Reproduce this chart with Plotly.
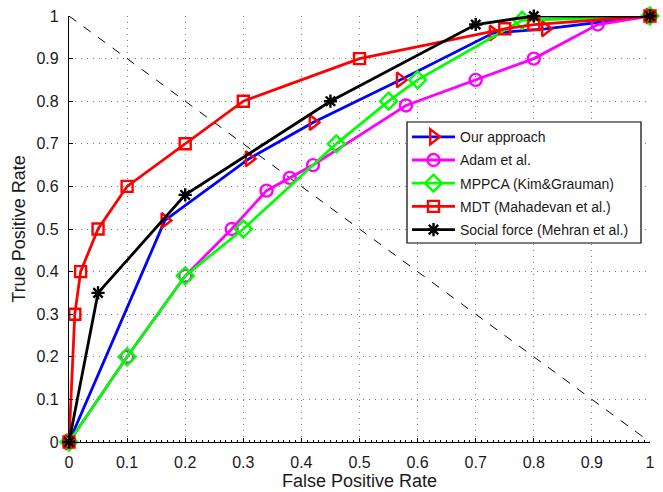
import plotly.graph_objects as go

# ---- data ----
ours_x = [0, 0.165, 0.31, 0.42, 0.57, 0.73, 0.82, 1.0]
ours_y = [0, 0.52, 0.665, 0.75, 0.85, 0.96, 0.97, 1.0]

adam_x = [0, 0.1, 0.2, 0.28, 0.34, 0.38, 0.42, 0.58, 0.70, 0.80, 0.91, 1.0]
adam_y = [0, 0.2, 0.39, 0.50, 0.59, 0.62, 0.65, 0.79, 0.85, 0.90, 0.98, 1.0]

mppca_x = [0, 0.1, 0.2, 0.3, 0.46, 0.55, 0.60, 0.78, 1.0]
mppca_y = [0, 0.2, 0.39, 0.5, 0.70, 0.80, 0.85, 0.99, 1.0]

mdt_x = [0, 0.01, 0.02, 0.05, 0.1, 0.2, 0.3, 0.5, 0.75, 0.80, 1.0]
mdt_y = [0, 0.30, 0.40, 0.50, 0.6, 0.7, 0.8, 0.9, 0.97, 0.98, 1.0]

sf_x = [0, 0.05, 0.2, 0.45, 0.70, 0.80, 1.0]
sf_y = [0, 0.35, 0.58, 0.80, 0.98, 1.0, 1.0]

diag_x = [0, 1]
diag_y = [1, 0]

tick_vals = [0, 0.1, 0.2, 0.3, 0.4, 0.5, 0.6, 0.7, 0.8, 0.9, 1.0]
tick_text = ["0", "0.1", "0.2", "0.3", "0.4", "0.5", "0.6", "0.7", "0.8", "0.9", "1"]

FONT = "Liberation Sans, Arial, sans-serif"

fig = go.Figure()

fig.add_trace(go.Scatter(x=diag_x, y=diag_y, mode="lines", showlegend=False,
                         line=dict(color="black", width=1, dash="dash"),
                         hoverinfo="skip", cliponaxis=False))

def add(x, y, name, lc, mc, sym, msize=11):
    fig.add_trace(go.Scatter(
        x=x, y=y, name=name, mode="lines+markers", cliponaxis=False,
        legendgroup=name,
        line=dict(color=lc, width=2.8),
        marker=dict(symbol=sym, size=msize, color=mc, line=dict(color=mc, width=2.4)),
    ))

add(ours_x, ours_y, "Our approach", "#0000ff", "#ff0000", "triangle-right-open", 13)
add(adam_x, adam_y, "Adam et al.", "#ff00ff", "#ff00ff", "circle-open", 12)
add(mppca_x, mppca_y, "MPPCA (Kim&Grauman)", "#00ff00", "#00ff00", "diamond-open", 13)
add(mdt_x, mdt_y, "MDT (Mahadevan et al.)", "#ff0000", "#ff0000", "square-open", 11)
add(sf_x, sf_y, "Social force (Mehran et al.)", "#000000", "#000000", "asterisk-open", 11)

axis_common = dict(
    range=[0, 1], tickvals=tick_vals, ticktext=tick_text,
    showgrid=True, gridcolor="#808080", gridwidth=1, griddash="1px,5px",
    showline=True, linecolor="black", linewidth=1.2,
    ticks="inside", ticklen=4, tickcolor="black", tickwidth=1,
    zeroline=False, mirror=False, automargin=False,
    tickfont=dict(family=FONT, size=16, color="#1a1a1a"),
    title_font=dict(family=FONT, size=18, color="#1a1a1a"),
)

# legend frame (opaque box behind the legend entries)
L_W, L_H = 663 - 69 - 13, 492 - 16 - 50
box_x0, box_x1 = (407 - 69) / L_W, (641 - 69) / L_W
box_y0, box_y1 = (442 - 243) / L_H, (442 - 122) / L_H

fig.update_layout(
    width=663, height=492,
    margin=dict(l=69, r=13, t=16, b=50),
    paper_bgcolor="white", plot_bgcolor="white",
    font=dict(family=FONT, color="#1a1a1a"),
    xaxis=dict(**axis_common, ticklabelstandoff=6,
               title=dict(text="False Positive Rate", standoff=2),
               minor=dict(dtick=0.01, ticks="inside", ticklen=2, tickcolor="black", showgrid=False)),
    yaxis=dict(**axis_common, ticklabelstandoff=6,
               title=dict(text="True Positive Rate", standoff=6)),
    shapes=[dict(type="rect", xref="paper", yref="paper",
                 x0=box_x0, x1=box_x1, y0=box_y0, y1=box_y1,
                 fillcolor="white", line=dict(color="black", width=1.2), layer="above")],
    legend=dict(x=box_x0, y=0.753, xanchor="left", yanchor="top",
                bgcolor="rgba(0,0,0,0)", borderwidth=0,
                font=dict(family=FONT, size=14, color="#1a1a1a"),
                itemwidth=43, tracegroupgap=2, traceorder="grouped"),
)

fig.write_html("out.html", config={"displayModeBar": False},
               post_script="document.body.style.margin='0px';")
